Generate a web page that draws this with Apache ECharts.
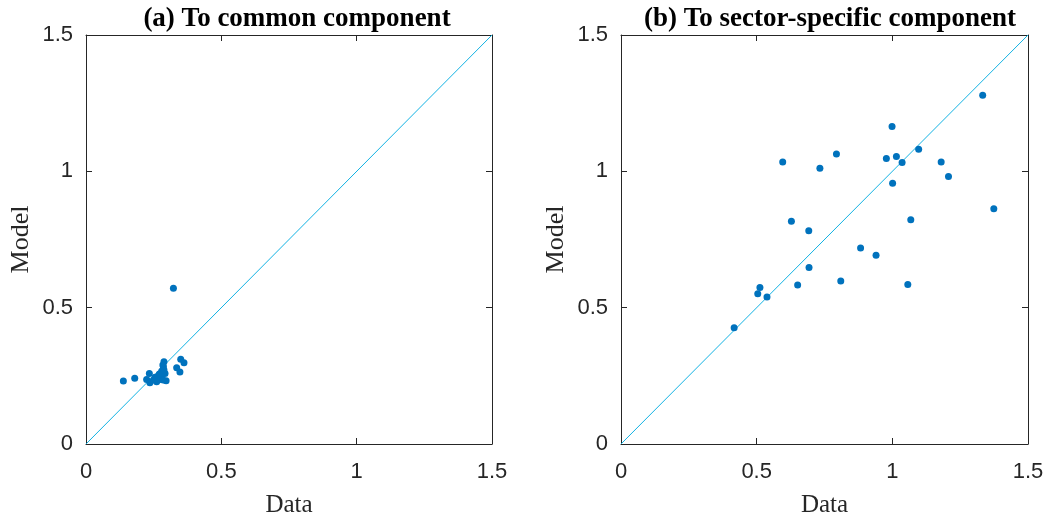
<!DOCTYPE html>
<html>
<head>
<meta charset="utf-8">
<script src="https://cdn.jsdelivr.net/npm/echarts@6/dist/echarts.min.js"></script>
<style>html,body{margin:0;padding:0;background:#fff;}#c{width:1047px;height:518px;}</style>
</head>
<body>
<div id="c"></div>
<script>
// Panel titles and labels
const panelTitles = ['(a) To common component', '(b) To sector-specific component'];
const xName = 'Data';
const yName = 'Model';
const tickValues = [0, 0.5, 1, 1.5];
const diagLine = [0, 1.5];

// (a) To common component: [Data, Model]
const commonData = [0.323, 0.138, 0.180, 0.350, 0.362, 0.335, 0.347, 0.288, 0.286, 0.280, 0.234, 0.224, 0.236, 0.267, 0.296, 0.267, 0.255, 0.280, 0.292, 0.261, 0.273, 0.284, 0.249, 0.285, 0.271, 0.288];
const commonModel = [0.571, 0.231, 0.241, 0.311, 0.298, 0.280, 0.264, 0.302, 0.283, 0.268, 0.259, 0.237, 0.225, 0.235, 0.232, 0.249, 0.245, 0.249, 0.259, 0.228, 0.241, 0.290, 0.235, 0.235, 0.257, 0.271];

// (b) To sector-specific component: [Data, Model]
const sectorData = [1.333, 0.999, 0.596, 0.733, 0.794, 0.978, 1.015, 1.036, 1.097, 1.180, 1.207, 1.001, 1.374, 0.628, 0.692, 1.068, 0.883, 0.940, 0.693, 0.810, 0.651, 1.057, 0.512, 0.504, 0.538, 0.417];
const sectorModel = [1.279, 1.164, 1.034, 1.011, 1.064, 1.047, 1.054, 1.032, 1.081, 1.034, 0.981, 0.956, 0.863, 0.817, 0.782, 0.822, 0.719, 0.692, 0.647, 0.598, 0.583, 0.585, 0.574, 0.551, 0.539, 0.426];

const dotColor = '#0072BD';
const lineColor = '#12B2E3';
const axisColor = '#262626';

function zip(a, b) { return a.map((v, i) => [v, b[i]]); }

const grids = [
  { left: 86, right: 555, top: 35, bottom: 74, containLabel: false, outerBoundsMode: 'none' },
  { left: 621, right: 19, top: 35, bottom: 74, containLabel: false, outerBoundsMode: 'none' }
];

const xAxes = [], yAxes = [], series = [], titles = [];
const sets = [[commonData, commonModel], [sectorData, sectorModel]];
grids.forEach((g, i) => {
  const common = {
    gridIndex: i, type: 'value', min: tickValues[0], max: tickValues[tickValues.length - 1], interval: 0.5,
    splitLine: { show: false },
    axisLine: { show: true, onZero: false, lineStyle: { color: axisColor, width: 1 } },
    axisTick: { show: true, inside: true, length: 6, lineStyle: { color: axisColor } }
  };
  xAxes.push(Object.assign({}, common, {
    position: 'bottom',
    name: xName, nameLocation: 'middle', nameGap: 49,
    nameTextStyle: { fontFamily: 'Liberation Serif', fontSize: 25, color: axisColor },
    axisLabel: { fontFamily: 'Liberation Sans', fontSize: 22, color: axisColor, margin: 17,
      formatter: v => String(v) }
  }));
  xAxes.push(Object.assign({}, common, { position: 'top', axisLabel: { show: false } }));
  yAxes.push(Object.assign({}, common, {
    position: 'left',
    name: yName, nameLocation: 'middle', nameGap: 52,
    nameTextStyle: { fontFamily: 'Liberation Serif', fontSize: 26, color: axisColor },
    axisLabel: { fontFamily: 'Liberation Sans', fontSize: 22, color: axisColor, margin: 13,
      formatter: v => String(v) }
  }));
  yAxes.push(Object.assign({}, common, { position: 'right', axisLabel: { show: false } }));

  series.push({
    type: 'line', xAxisIndex: i * 2, yAxisIndex: i * 2,
    data: [[diagLine[0], diagLine[0]], [diagLine[1], diagLine[1]]],
    symbol: 'none', lineStyle: { color: lineColor, width: 1 }, silent: true, z: 1
  });
  series.push({
    type: 'scatter', xAxisIndex: i * 2, yAxisIndex: i * 2,
    data: zip(sets[i][0], sets[i][1]),
    symbolSize: 7, itemStyle: { color: dotColor, opacity: 1 }, z: 2
  });
  const cx = i === 0 ? 292 : 825;
  titles.push({
    text: panelTitles[i], left: cx, top: 1, textAlign: 'center',
    textStyle: { fontFamily: 'Liberation Serif', fontWeight: 'bold', fontSize: 27, color: '#000' }
  });
});

const chart = echarts.init(document.getElementById('c'), null, { renderer: 'canvas' });
chart.setOption({
  backgroundColor: '#fff',
  animation: false,
  title: titles,
  grid: grids,
  xAxis: xAxes,
  yAxis: yAxes,
  series: series
});
</script>
</body>
</html>
